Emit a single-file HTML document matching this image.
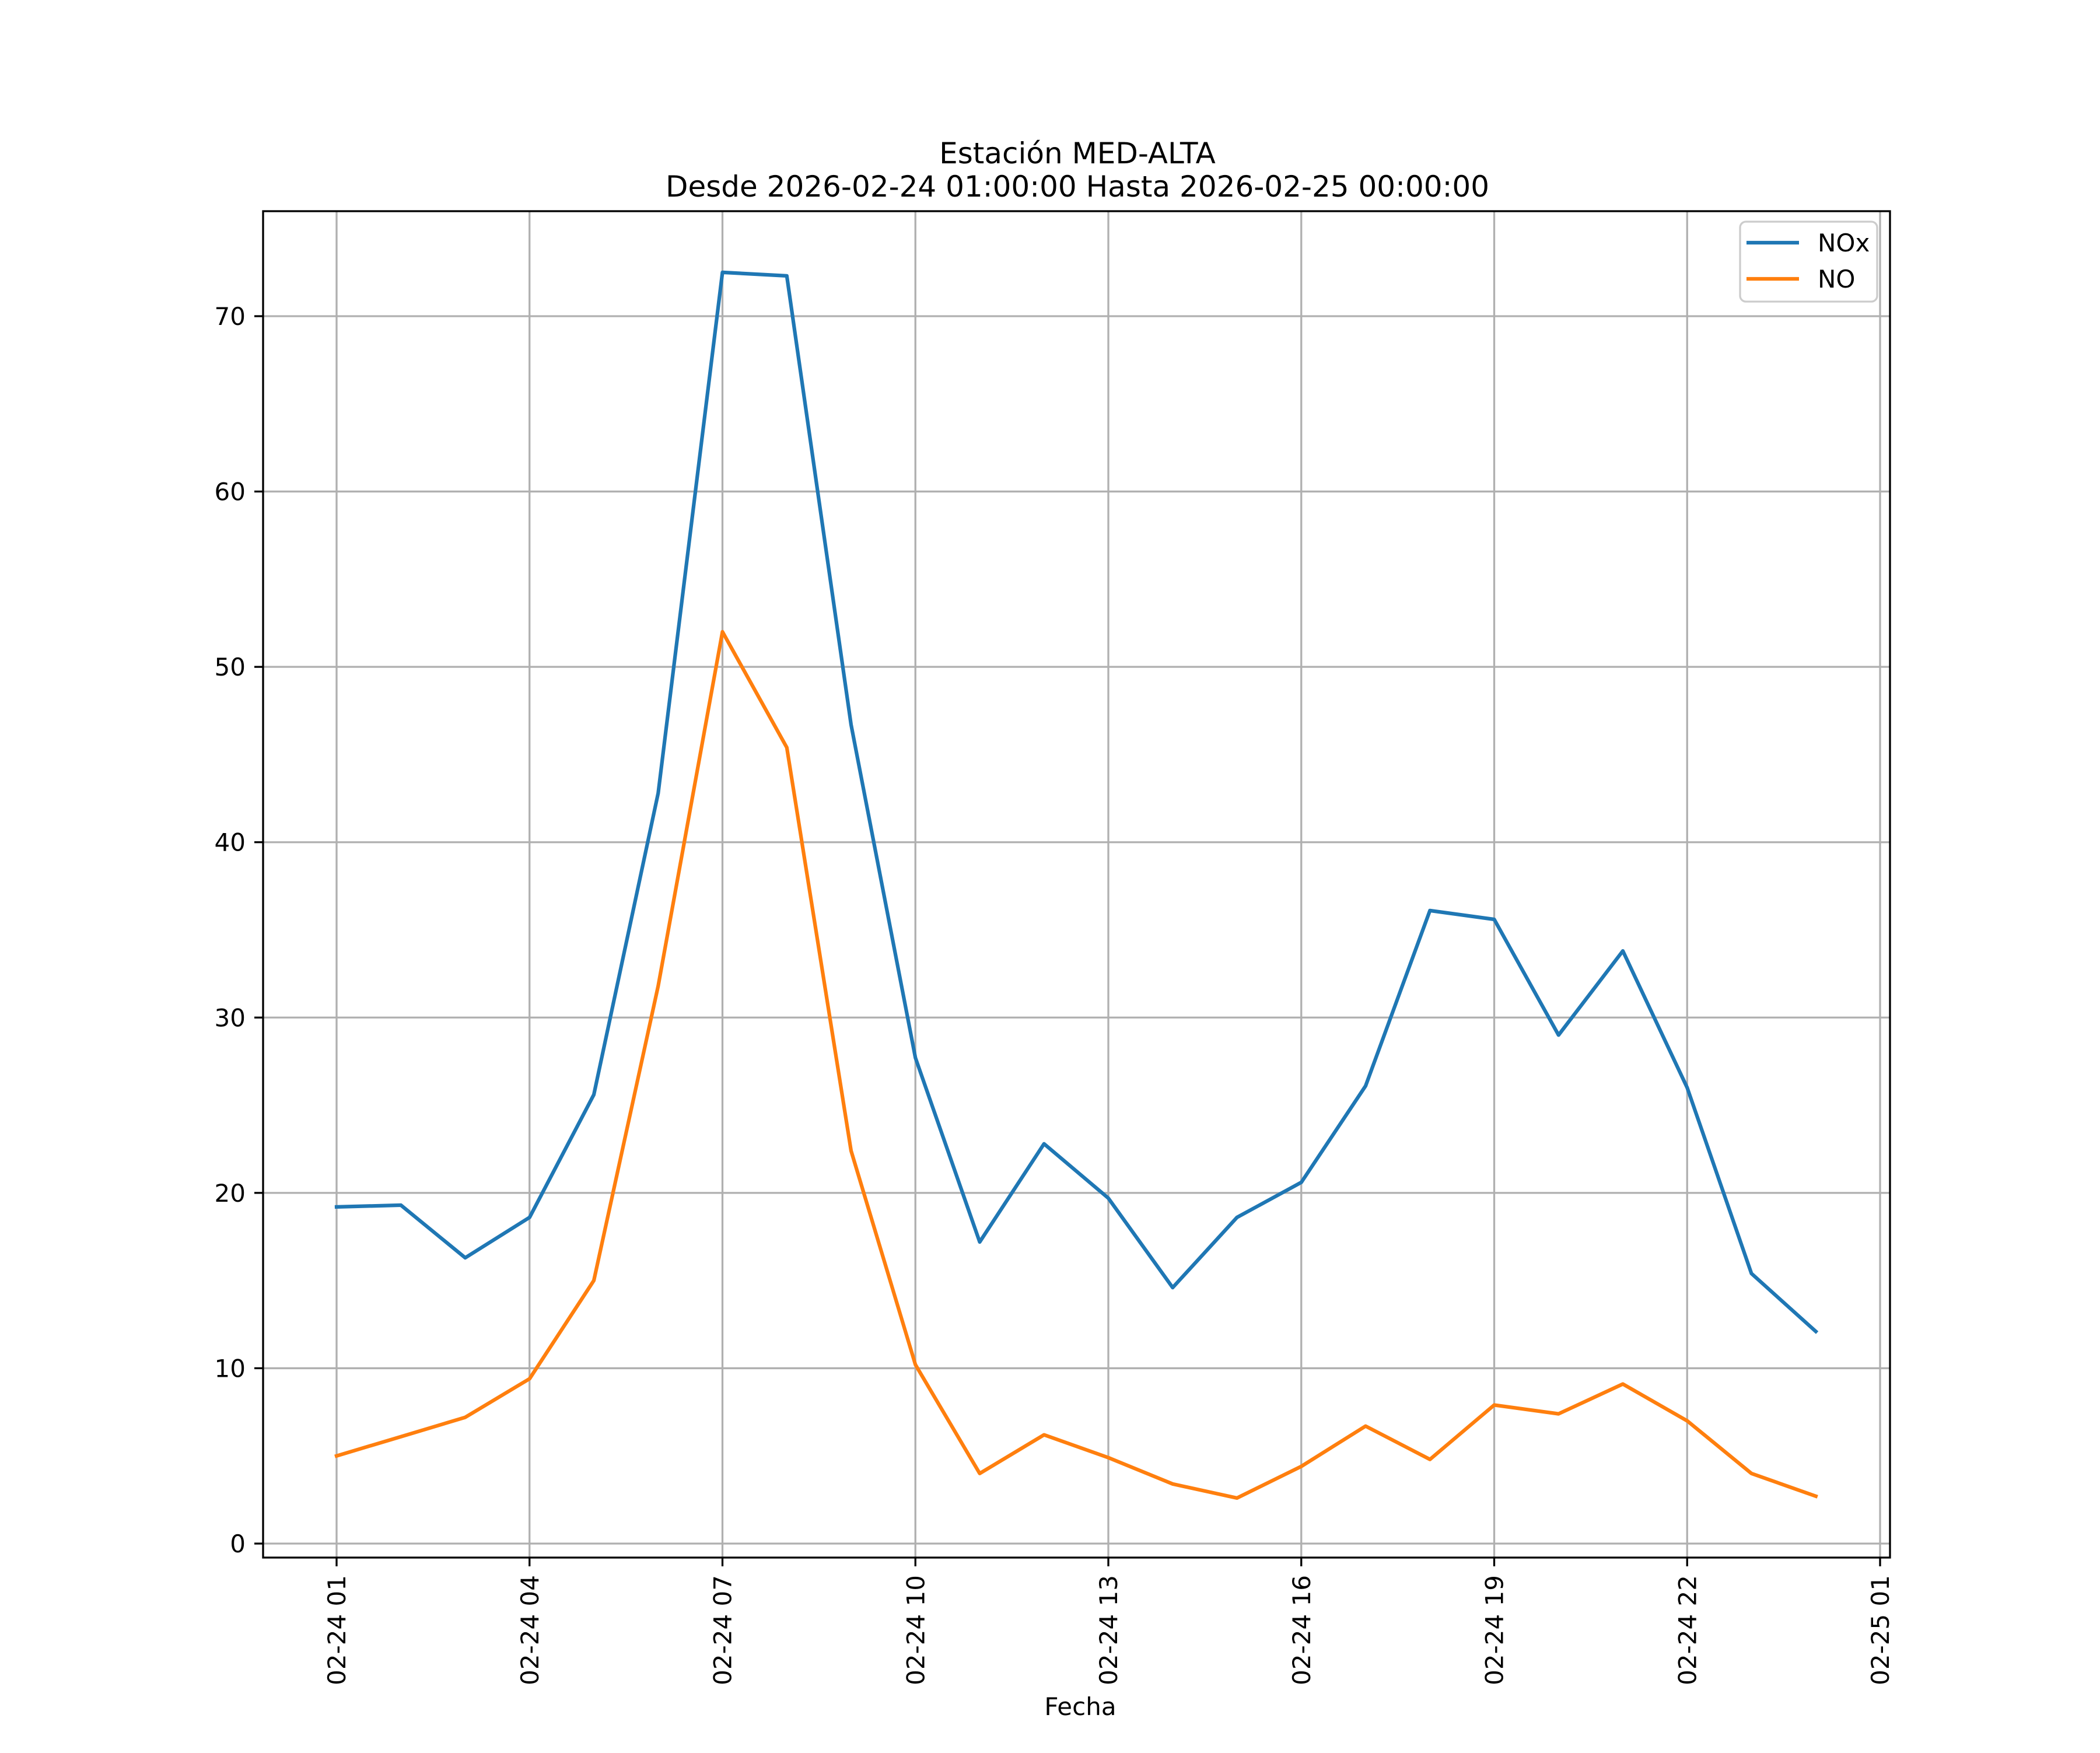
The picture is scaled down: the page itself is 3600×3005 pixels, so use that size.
<!DOCTYPE html>
<html><head><meta charset="utf-8"><style>
html,body{margin:0;padding:0;background:#fff}
svg text{font-family:"DejaVu Sans","Liberation Sans",sans-serif;fill:#000}
</style></head><body>
<svg id="chart" width="3600" height="3000" viewBox="0 0 3600 3000" xmlns="http://www.w3.org/2000/svg">
<rect width="3600" height="3000" fill="#fff"/>
<g id="grid"></g>
<g id="series"></g>
<rect x="451" y="362" width="2789" height="2308" fill="none" stroke="#000" stroke-width="3.3"/>
<g id="ticks"></g>
<text x="1847" y="280" font-size="50" text-anchor="middle">Estación MED-ALTA</text>
<text x="1847" y="337" font-size="50" text-anchor="middle">Desde 2026-02-24 01:00:00 Hasta 2026-02-25 00:00:00</text>
<text x="1852" y="2940" font-size="42" text-anchor="middle">Fecha</text>
<g>
<rect x="2983" y="380" width="235" height="137" rx="10" fill="#fff" fill-opacity="0.8" stroke="#cccccc" stroke-width="3.3"/>
<line x1="2994" y1="416" x2="3084" y2="416" stroke="#1f77b4" stroke-width="6.25"/>
<text x="3116" y="431" font-size="42">NOx</text>
<line x1="2994" y1="478" x2="3084" y2="478" stroke="#ff7f0e" stroke-width="6.25"/>
<text x="3116" y="493" font-size="42">NO</text>
</g>
</svg>
<script>
const hours = [1,2,3,4,5,6,7,8,9,10,11,12,13,14,15,16,17,18,19,20,21,22,23,24];
const noxValues = [19.2,19.3,16.3,18.6,25.6,42.8,72.5,72.3,46.7,27.7,17.2,22.8,19.7,14.6,18.6,20.6,26.1,36.1,35.6,29.0,33.8,26.0,15.4,12.1];
const noValues = [5.0,6.1,7.2,9.4,15.0,31.8,52.0,45.4,22.4,10.2,4.0,6.2,4.9,3.4,2.6,4.4,6.7,4.8,7.9,7.4,9.1,7.0,4.0,2.7];
const xTickHours = [1,4,7,10,13,16,19,22,25];
const xTickLabels = ["02-24 01","02-24 04","02-24 07","02-24 10","02-24 13","02-24 16","02-24 19","02-24 22","02-25 01"];
const yTicks = [0,10,20,30,40,50,60,70];

const NS = "http://www.w3.org/2000/svg";
function xScale(h){ return 577 + (h - 1) * (3223 - 577) / 24; }
function yScale(v){ return 2646 - v * (2646 - 542) / 70; }
function mk(tag, attrs, parent){
  const e = document.createElementNS(NS, tag);
  for (const k in attrs) e.setAttribute(k, attrs[k]);
  parent.appendChild(e); return e;
}
const grid = document.getElementById('grid');
const ticks = document.getElementById('ticks');
const series = document.getElementById('series');

xTickHours.forEach((h, i) => {
  const x = xScale(h);
  const g = mk('line', {x1:x, y1:362, x2:x, y2:2670, stroke:'#b0b0b0', 'stroke-width':3.3}, grid);
  
  
  const t = mk('line', {x1:x, y1:2670, x2:x, y2:2685, stroke:'#000', 'stroke-width':3.3}, ticks);
  
  
  const tx = mk('text', {x:0, y:0, 'font-size':42, 'text-anchor':'end', transform:'translate(' + (x + 15) + ',2700) rotate(-90)'}, ticks);
  tx.textContent = xTickLabels[i];
  
  
});
yTicks.forEach(v => {
  const y = yScale(v);
  const g = mk('line', {x1:451, y1:y, x2:3240, y2:y, stroke:'#b0b0b0', 'stroke-width':3.3}, grid);
  
  
  const t = mk('line', {x1:436, y1:y, x2:451, y2:y, stroke:'#000', 'stroke-width':3.3}, ticks);
  
  
  const tx = mk('text', {x:421, y:y + 15, 'font-size':42, 'text-anchor':'end'}, ticks);
  tx.textContent = String(v);
  
  
});
function drawLine(vals, color, name){
  const pts = vals.map((v, i) => xScale(hours[i]).toFixed(1) + ',' + yScale(v).toFixed(1)).join(' ');
  const p = mk('polyline', {points:pts, fill:'none', stroke:color, 'stroke-width':6.25, 'stroke-linejoin':'round', 'stroke-linecap':'square'}, series);
  
  
}
drawLine(noxValues, '#1f77b4', 'nox-line');
drawLine(noValues, '#ff7f0e', 'no-line');
</script>
</body></html>
